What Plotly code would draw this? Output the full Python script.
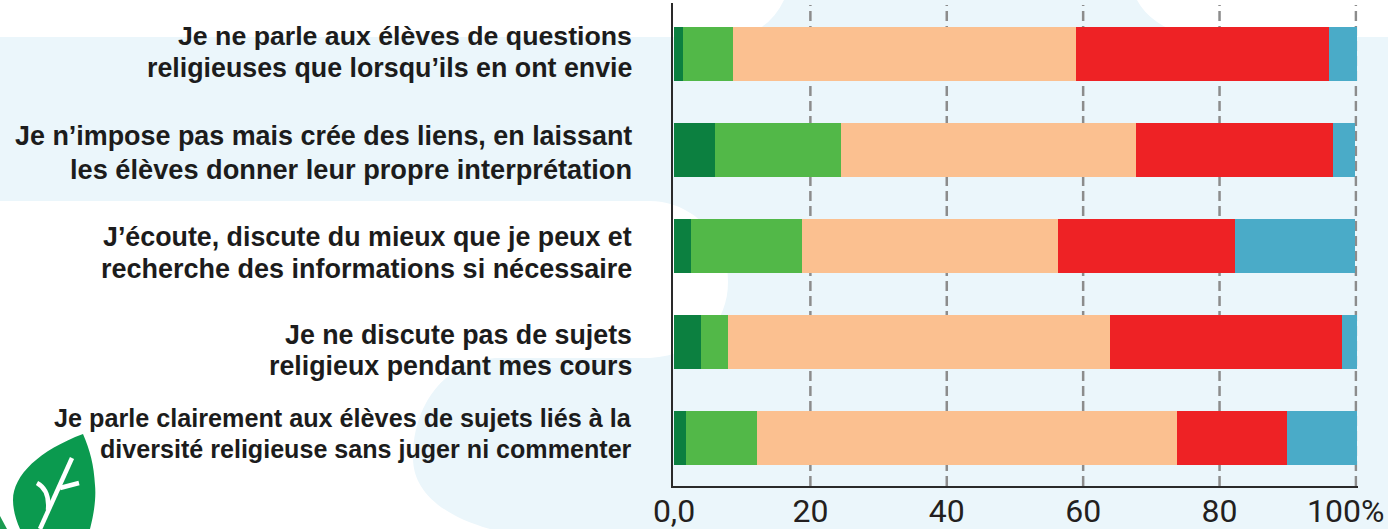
import plotly.graph_objects as go

W, H = 1388, 529

line_one = [
    "Je ne parle aux élèves de questions",
    "Je n’impose pas mais crée des liens, en laissant",
    "J’écoute, discute du mieux que je peux et",
    "Je ne discute pas de sujets",
    "Je parle clairement aux élèves de sujets liés à la",
]
line_two = [
    "religieuses que lorsqu’ils en ont envie",
    "les élèves donner leur propre interprétation",
    "recherche des informations si nécessaire",
    "religieux pendant mes cours",
    "diversité religieuse sans juger ni commenter",
]
categories = [a + " " + b for a, b in zip(line_one, line_two)]
series_a = [1.3, 6.0, 2.5, 3.9, 1.7]
series_b = [7.4, 18.5, 16.3, 4.0, 10.5]
series_c = [50.2, 43.2, 37.5, 56.1, 61.6]
series_d = [37.2, 28.9, 26.0, 34.0, 16.1]
series_e = [4.1, 3.3, 17.6, 2.2, 10.3]
series_names = ["Catégorie 1", "Catégorie 2", "Catégorie 3", "Catégorie 4", "Catégorie 5"]
series_colors = ["#0c8040", "#52b848", "#fbc090", "#ee2225", "#4aabc8"]
tick_vals = [0, 20, 40, 60, 80]
tick_text = ["0,0", "20", "40", "60", "80"]
grid_vals = [20, 40, 60, 80, 100]
shift_one = [18, 14, 9, 7, 20]
shift_two = [-14, -20, -23, -24, -11]
sizes_one = [26.7, 26.9, 26.8, 26.8, 25.2]
sizes_two = [26.8, 27.2, 27.0, 26.8, 25.1]

BG = "#ebf6fb"


def px(x, y):
    return f"{x / W:.5f},{1 - y / H:.5f}"


def path(cmds):
    out = []
    for c in cmds:
        out.append(c[0] + " ".join(px(c[i], c[i + 1]) for i in range(1, len(c), 2)))
    return " ".join(out) + " Z"


shapes = [
    dict(type="path", xref="paper", yref="paper", layer="below", fillcolor=BG, line_width=0,
         path=path([("M", 0, 37), ("L", 738, 37), ("Q", 770, 30, 784, 0), ("L", 1137, 0),
                    ("Q", 1150, 25, 1190, 37), ("L", W, 37), ("L", W, H), ("L", 490, H),
                    ("C", 440, 515, 413, 490, 413, 458), ("C", 413, 400, 450, 358, 500, 358),
                    ("L", 650, 358), ("C", 700, 355, 728, 322, 728, 282),
                    ("C", 728, 235, 690, 201, 650, 201), ("L", 0, 201)])),
    dict(type="path", xref="paper", yref="paper", layer="below", fillcolor="#0b9a4f", line_width=0,
         path=path([("M", 83, 434), ("C", 40, 450, 13, 475, 13, 500), ("C", 13, 510, 16, 520, 20, H),
                    ("L", 90, H), ("C", 95, 510, 96, 495, 95, 485), ("C", 94, 465, 90, 450, 83, 434)])),
    dict(type="path", xref="paper", yref="paper", layer="below", fillcolor="#1a9a50", line_width=0,
         path=path([("M", 0, 516), ("L", 7, H), ("L", 0, H)])),
]
for seg in ([(72, 458), (40, H)], [(79, 483), (60, 488)]):
    shapes.append(dict(type="path", xref="paper", yref="paper", layer="below",
                       line=dict(color="white", width=4.5),
                       path=f"M{px(*seg[0])} L{px(*seg[1])}"))
shapes.append(dict(type="path", xref="paper", yref="paper", layer="below",
                   line=dict(color="white", width=4.5),
                   path=f"M{px(37, 483)} Q{px(50, 490)} {px(48, 510)}"))
for v in grid_vals:
    shapes.append(dict(type="line", xref="x", yref="y domain", x0=v, x1=v, y0=0, y1=0.996,
                       layer="below", line=dict(color="#8c8c8c", width=2.5, dash="10px,5px")))

fig = go.Figure()
for name, color, vals in zip(series_names, series_colors,
                             [series_a, series_b, series_c, series_d, series_e]):
    fig.add_bar(y=categories, x=vals, orientation="h", name=name, marker_color=color,
                marker_line_width=0, width=0.5625)

annotations = []
for cat, l1, l2, s1, s2, z1, z2 in zip(categories, line_one, line_two, shift_one, shift_two,
                                       sizes_one, sizes_two):
    for text, s, z in ((l1, s1, z1), (l2, s2, z2)):
        annotations.append(dict(x=634 / W, y=cat, xref="paper", yref="y", text=f"<b>{text}</b>",
                                showarrow=False, xanchor="right", align="right", yshift=s,
                                font=dict(family="Liberation Sans", size=z, color="#1c1c1c")))
annotations.append(dict(x=100, y=1 - 511 / H, xref="x", yref="paper", text="100%", showarrow=False,
                        xanchor="center", yanchor="middle", xshift=-10,
                        font=dict(family="Roboto", size=32, color="#231f20")))

fig.update_layout(
    width=W, height=H, margin=dict(l=0, r=0, t=0, b=0, pad=0, autoexpand=False),
    paper_bgcolor="white", plot_bgcolor="rgba(0,0,0,0)",
    barmode="stack", showlegend=False,
    shapes=shapes, annotations=annotations,
    xaxis=dict(domain=[672.7 / W, 1357.5 / W], range=[-0.19, 100.23], tickmode="array",
               tickvals=tick_vals, ticktext=tick_text, showgrid=False, zeroline=False,
               showline=True, linecolor="#2a2a2a", linewidth=2, ticks="", automargin=False,
               ticklabelstandoff=-4,
               tickfont=dict(family="Roboto", size=32, color="#231f20")),
    yaxis=dict(domain=[1 - 486 / H, 1 - 3 / H], range=[4.5, -0.531], type="category",
               categoryorder="array", categoryarray=categories, showticklabels=False,
               showgrid=False, zeroline=False, showline=True, linecolor="#2a2a2a",
               linewidth=2, ticks="", automargin=False),
)

fig.write_html("out.html", config=dict(displayModeBar=False),
               post_script="document.body.style.margin='0';document.body.style.overflow='hidden';")
